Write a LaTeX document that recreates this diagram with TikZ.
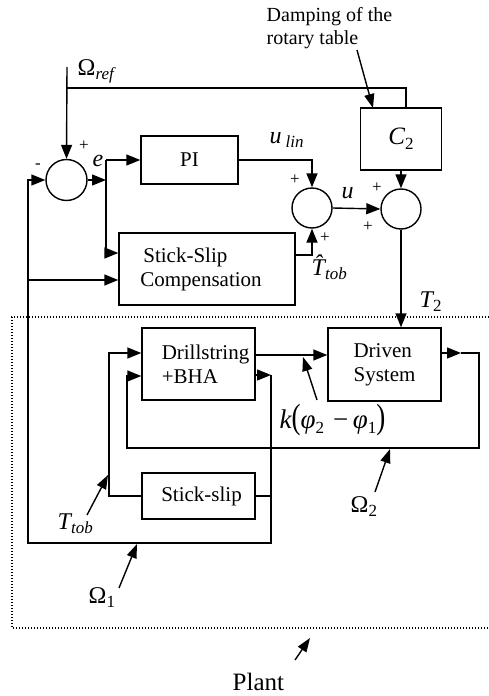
\documentclass[tikz,border=0pt]{standalone}
\usepackage{fontspec}
\setmainfont{Liberation Serif}
\usetikzlibrary{arrows.meta}
\newcommand{\sbs}[1]{\raisebox{-0.45ex}{\fontsize{17}{17}\selectfont #1}}
\begin{document}
\begin{tikzpicture}[x=1pt,y=-1pt,line width=1.4pt,
  box/.style={draw,rectangle,inner sep=0pt,align=center,font=\fontsize{21}{24}\selectfont},
  sumc/.style={draw,circle,minimum size=40pt,inner sep=0pt},
  arr/.style={-{Triangle[length=14pt,width=11pt]}},
  note/.style={-{Triangle[length=14pt,width=10pt]}},
  lab/.style={font=\fontsize{24}{24}\selectfont,inner sep=0pt},
  sgn/.style={font=\fontsize{17}{17}\selectfont,inner sep=0pt},
  txt/.style={font=\fontsize{20}{23}\selectfont,inner sep=0pt,align=left}]
\useasboundingbox (0,0) rectangle (489,696);

% plant frame
\draw[line width=1.1pt,dash pattern=on 1.1pt off 1.9pt] (489,317) -- (12,317) -- (12,628) -- (489,628);

% blocks
\node[box,minimum width=97pt,minimum height=48pt] (PI) at (189.5,160) {PI};
\node[box,minimum width=81pt,minimum height=62pt] (C2) at (401,139) {\fontsize{25}{25}\selectfont\itshape C\sbs{\upshape 2}};
\node[box,minimum width=176pt,minimum height=72pt,align=left] (SSC) at (207,269) {\hspace*{3pt}Stick-Slip\\Compensation\hspace*{12pt}};
\node[box,minimum width=113pt,minimum height=72pt,align=left] (DS) at (198.5,364) {\hspace*{14pt}Drillstring\\\hspace*{14pt}+BHA};
\node[box,minimum width=113pt,minimum height=73pt,align=left] (DR) at (384.5,364.5) {Driven\\System};
\node[box,minimum width=113pt,minimum height=46pt] (SS) at (198.5,496) {\hspace*{6pt}Stick-slip};

\node[sumc,minimum size=41pt] (S1) at (66.5,180) {};
\node[sumc] (S2) at (312,208) {};
\node[sumc] (S3) at (401,209) {};

% coordinates
\coordinate (ref) at (67,67);
\coordinate (rb) at (67,88);
\coordinate (ct) at (406,88);
\coordinate (ej) at (106,180);
\coordinate (et) at (106,160);
\coordinate (eb) at (106,253);
\coordinate (so) at (295,255);
\coordinate (d1) at (255,355);
\coordinate (r1) at (441,353);
\coordinate (r2) at (461,353);
\coordinate (o2a) at (479,353);
\coordinate (o2b) at (479,448);
\coordinate (o2c) at (127,448);
\coordinate (o2d) at (127,376);
\coordinate (w1) at (255,375);
\coordinate (w2) at (271,375);
\coordinate (o1a) at (271,543);
\coordinate (o1b) at (28,543);
\coordinate (o1c) at (28,180);
\coordinate (sb) at (271,496);
\coordinate (cb) at (28,280);
\coordinate (t1) at (109,496);
\coordinate (t2) at (109,353);

% connectors
\draw[arr] (ref) -- (S1.north);
\draw (rb) -- (ct) -- (ct |- C2.north);
\draw[arr] (S1.east) -- (ej);
\draw (et) -- (eb);
\draw[arr] (et) -- (PI.west);
\draw[arr] (eb) -- (eb -| SSC.west);
\draw[arr] (PI.east) -| (S2.north);
\draw[arr] (so) -| (S2.south);
\draw[arr] (S2.east) -- (S3.west);
\draw[arr] (C2.south) -- (S3.north);
\draw[arr] (S3.south) -- (S3.south |- DR.north);
\draw[arr] (d1) -- (d1 -| DR.west);
\draw[arr] (r1) -- (r2);
\draw[arr] (r2) -- (o2a) -- (o2b) -- (o2c) -- (o2d) -- (o2d -| DS.west);
\draw[arr] (w1) -- (w2);
\draw[arr] (w2) -- (o1a) -- (o1b) -- (o1c) -- (S1.west);
\draw (sb) -- (SS.east);
\draw[arr] (cb) -- (cb -| SSC.west);
\draw[arr] (SS.west) -- (t1) -- (t2) -- (t2 -| DS.west);

% signs
\node[sgn] (p1) at (84,146) {+};
\node[sgn] (m1) at (38,166) {-};
\node[sgn] (p2) at (295,180) {+};
\node[sgn] (p3) at (325,238) {+};
\node[sgn] (p4) at (377,188) {+};
\node[sgn] (p5) at (368,227) {+};

% signal labels
\node[lab,anchor=base west] (lref) at (77,75) {Ω\sbs{\itshape ref}};
\node[lab,anchor=base west] (le) at (92,166) {\itshape e};
\node[lab,anchor=base west] (lulin) at (269,143) {\itshape u\,\sbs{lin}};
\node[lab,anchor=base west] (lu) at (341,198) {\itshape u};
\node[lab,anchor=base west] (lth) at (311,275) {\itshape \^{T}\sbs{tob}};
\node[lab,anchor=base west] (lt2) at (419,307) {\itshape T\sbs{\upshape 2}};
\node[lab,anchor=base west,font=\fontsize{27}{27}\selectfont] (lk) at (279,428) {\itshape k\upshape\scalebox{1}[1.3]{(}\itshape φ\sbs{\upshape 2}\upshape\,\,−\,\itshape φ\sbs{\upshape 1}\upshape\scalebox{1}[1.3]{)}};
\node[lab,anchor=base west] (lo2) at (350,512) {Ω\sbs{2}};
\node[lab,anchor=base west] (lo1) at (88,603) {Ω\sbs{1}};
\node[lab,anchor=base west] (ltt) at (57,529) {\itshape T\sbs{tob}};
\node[font=\fontsize{25}{25}\selectfont,inner sep=0pt,anchor=base west] (lpl) at (232,690) {Plant};
\node[txt,anchor=north west] (ldp) at (266,7) {Damping of the\\rotary table};

% annotation arrows
\coordinate (a1s) at (357,50);   \coordinate (a1e) at (373,108);
\coordinate (a2s) at (317,400);  \coordinate (a2e) at (303,357);
\coordinate (a3s) at (375,492);  \coordinate (a3e) at (390,449);
\coordinate (a4s) at (119,588);  \coordinate (a4e) at (137,544);
\coordinate (a5s) at (87,515);   \coordinate (a5e) at (108,475);
\coordinate (a6s) at (295,660);  \coordinate (a6e) at (310,638);
\draw[note] (a1s) -- (a1e);
\draw[note] (a2s) -- (a2e);
\draw[note] (a3s) -- (a3e);
\draw[note] (a4s) -- (a4e);
\draw[note] (a5s) -- (a5e);
\draw[note] (a6s) -- (a6e);
\end{tikzpicture}
\end{document}
